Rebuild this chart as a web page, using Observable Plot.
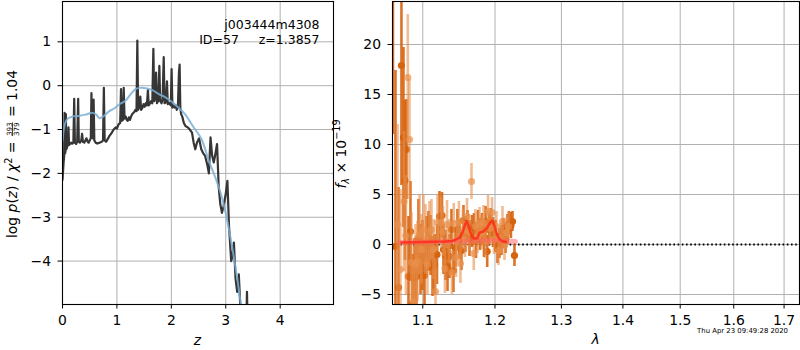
<!DOCTYPE html>
<html><head><meta charset="utf-8">
<script src="https://cdn.jsdelivr.net/npm/d3@7"></script>
<script src="https://cdn.jsdelivr.net/npm/@observablehq/plot@0.6"></script>
<style>
body{margin:0;background:#fff;}
#wrap{position:relative;width:800px;height:350px;font-family:"DejaVu Sans";}
#wrap svg{position:absolute;top:0;overflow:visible;background:none;}
</style></head><body><div id="wrap"></div>
<script>
// ---------- left panel: p(z) ----------
const zGrid = [0.000,0.010,0.020,0.030,0.038,0.045,0.055,0.062,0.070,0.085,0.100,0.110,0.120,0.140,0.160,0.180,0.200,0.215,0.228,0.250,0.270,0.288,0.300,0.320,0.345,0.360,0.375,0.400,0.420,0.440,0.460,0.480,0.500,0.520,0.532,0.545,0.560,0.572,0.585,0.610,0.640,0.680,0.720,0.745,0.760,0.775,0.800,0.830,0.860,0.900,0.940,0.980,1.000,1.030,1.060,1.075,1.090,1.110,1.125,1.140,1.160,1.180,1.200,1.220,1.240,1.260,1.280,1.300,1.320,1.340,1.360,1.375,1.390,1.410,1.430,1.445,1.470,1.490,1.510,1.530,1.550,1.570,1.585,1.610,1.630,1.650,1.670,1.685,1.700,1.720,1.735,1.760,1.780,1.795,1.820,1.840,1.860,1.875,1.900,1.920,1.935,1.960,1.990,2.005,2.020,2.040,2.060,2.080,2.100,2.120,2.140,2.152,2.165,2.180,2.200,2.230,2.260,2.300,2.340,2.380,2.410,2.440,2.470,2.510,2.550,2.590,2.620,2.660,2.690,2.720,2.750,2.780,2.810,2.840,2.870,2.900,2.930,2.960,2.996,3.030,3.060,3.100,3.120,3.150,3.180,3.210,3.240,3.270,3.300,3.380,3.390,3.400];
const logPz = [-2.15,-1.95,-1.75,-1.62,-0.62,-1.55,-1.50,-0.65,-1.45,-1.40,-1.35,-0.95,-1.35,-1.33,-1.30,-1.32,-1.30,-0.30,-1.30,-1.33,-1.28,-0.30,-1.28,-1.30,-1.25,-1.10,-1.28,-1.30,-1.25,-1.20,-1.27,-1.30,-1.25,-1.20,-0.17,-1.15,-1.20,-0.32,-1.25,-1.30,-1.32,-1.30,-1.28,-1.25,-0.05,-1.25,-1.28,-1.22,-1.15,-1.08,-1.00,-0.95,-0.98,-0.88,-0.85,-0.08,-0.80,-0.78,-0.05,-0.75,-0.70,-0.78,-0.80,-0.72,-0.78,-0.70,-0.65,-0.62,-0.60,-0.55,-0.58,1.03,-0.55,-0.50,-0.25,-0.55,-0.50,-0.42,-0.48,-0.40,-0.45,-0.10,-0.45,-0.40,-0.35,-0.40,0.84,-0.35,-0.30,0.30,-0.40,-0.35,0.45,-0.35,-0.40,-0.30,0.65,-0.40,-0.38,0.10,-0.42,-0.40,-0.45,0.38,-0.50,-0.45,-0.50,-0.45,-0.55,-0.50,0.30,0.48,-0.50,-0.65,-0.70,-0.85,-0.92,-0.95,-1.00,-1.07,-1.30,-1.45,-1.30,-1.20,-1.45,-1.55,-1.60,-1.80,-2.00,-1.18,-1.60,-1.75,-1.55,-1.33,-2.30,-2.70,-2.90,-2.75,-2.50,-2.17,-3.20,-4.00,-3.90,-3.58,-4.40,-4.70,-4.30,-5.10,-5.40,-5.30,-4.70,-5.30];
const zSmooth = [0,0.03,0.06,0.1,0.2,0.3,0.45,0.55,0.62,0.68,0.75,0.86,0.95,1.04,1.16,1.25,1.34,1.42,1.5,1.65,1.77,1.9,2.02,2.13,2.25,2.4,2.555,2.69,2.81,2.93,3.03,3.12,3.21,3.27,3.32];
const logPzSmooth = [-1.26,-0.95,-0.82,-0.75,-0.70,-0.69,-0.65,-0.62,-0.66,-0.74,-0.70,-0.58,-0.52,-0.43,-0.34,-0.20,-0.08,-0.05,-0.05,-0.10,-0.19,-0.27,-0.38,-0.50,-0.65,-0.93,-1.22,-1.72,-2.10,-2.55,-3.09,-3.70,-4.39,-4.92,-5.40];
const zTicks = [0,1,2,3,4];
const pzTicks = [-4,-3,-2,-1,0,1];
const objName = "j003444m4308";
const objId = "ID=57";
const objZ = "z=1.3857";
const chi2Num = "393", chi2Den = "379", chi2Val = "1.04";

// ---------- right panel: spectrum ----------
const lamDark = [1.0612,1.0644,1.0683,1.0721,1.0747,1.0766,1.0786,1.0812,1.0838,1.0864,1.0891,1.0917,1.0943,1.0970,1.0996,1.1023,1.1049,1.1076,1.1103,1.1130,1.1157,1.1190,1.1224,1.1258,1.1278,1.1305,1.1333,1.1360,1.1387,1.1414,1.1442,1.1469,1.1497,1.1525,1.1553,1.1581,1.1609,1.1637,1.1672,1.1700,1.1729,1.1757,1.1785,1.1814,1.1842,1.1864,1.1888,1.1914,1.1942,1.1971,1.2007,1.2036,1.2065,1.2094,1.2123,1.2153,1.2182,1.2204,1.2233,1.2256,1.2285];
const fluxDark = [30,-0.2,-4.3,17.9,10.7,6.4,9.5,-3.2,1.3,-6.0,-3.4,-3.2,0.5,-1.5,-1.1,-3.1,-0.2,0.3,-0.1,-2.2,-2.0,-1.0,2.8,2.9,-0.5,-1.1,-2.2,-1.2,1.5,-2.6,-0.3,1.5,0.5,-0.6,2.4,1.0,1.8,0.6,1.3,1.5,0.4,1.8,1.0,1.5,0.5,2.3,-0.7,1.5,2.1,1.2,0.8,-0.4,0.1,0.4,1.1,0.6,1.5,2.1,1.9,2.3,-1.1];
const errDark = [19,17.6,10,12,9,8,5,6,5,5,4,4,4,3.5,3.5,3.5,3,3,3,3,3,3,2.5,2.3,2.5,2.5,2.5,2.2,2,2.2,2,2,2,2,1.5,1.8,1.6,1.8,1.6,1.6,1.8,1.6,1.6,1.6,1.8,1.5,1.6,1.6,1.5,1.5,1.6,1.5,1.5,1.5,1.5,1.5,1.5,1.2,1.3,1.0,1.1];
const lamLight = [1.0670,1.0708,1.0754,1.0779,1.0803,1.0825,1.0851,1.0878,1.0904,1.0930,1.0957,1.0983,1.1009,1.1036,1.1062,1.1089,1.1116,1.1143,1.1170,1.1197,1.1244,1.1271,1.1298,1.1326,1.1353,1.1394,1.1419,1.1449,1.1465,1.1490,1.1511,1.1546,1.1574,1.1602,1.1630,1.1665,1.1697,1.1721,1.1750,1.1778,1.1806,1.1835,1.1864,1.1900,1.1928,1.1957,1.1985,1.2022,1.2051,1.2080,1.2109,1.2138,1.2168,1.2197];
const fluxLight = [2.0,-2.5,4.3,0.9,16.7,10.5,-1.8,-5.7,-2.0,-1.7,1.0,-0.5,1.5,0.5,-2.0,1.3,1.5,-0.5,-4.7,2.2,2.2,1.3,-2.4,2.0,0.3,-2.8,2.1,-1.3,0.3,2.3,-1.9,1.5,0.5,2.8,1.2,6.3,-0.9,1.8,0.8,2.0,1.2,2.2,0.3,3.3,1.6,3.2,0.5,1.8,-0.6,0.6,2.3,-0.1,1.2,1.8];
const errLight = [10,8,7,6,6.3,6,5,4,4,4,4,3.5,3.5,3.5,3,3,3,3,3,2.8,2.5,2.5,2.5,2.4,2.2,2.2,2,2,2,2,2,2,1.8,1.8,1.8,1.8,1.7,1.7,1.7,1.7,1.7,1.7,1.7,1.6,1.6,1.5,1.5,1.5,1.5,1.5,1.5,1.5,1.5,1.4];
const lamModel = [1.072,1.100,1.130,1.140,1.145,1.150,1.154,1.1575,1.160,1.1625,1.166,1.170,1.1745,1.178,1.183,1.188,1.193,1.196,1.199,1.203,1.207,1.212,1.216];
const fluxModel = [0.2,0.25,0.3,0.35,0.5,0.7,1.2,2.0,2.35,1.8,1.0,0.6,0.6,1.2,1.3,1.6,2.2,2.4,1.9,1.0,0.5,0.3,0.25];
const lamCont = [1.069,1.10,1.14,1.16,1.18,1.20,1.215,1.23];
const fluxCont = [0.2,0.25,0.3,0.35,0.4,0.4,0.35,0.3];
const lamTicks = [1.1,1.2,1.3,1.4,1.5,1.6,1.7];
const fluxTicks = [-5,0,5,10,15,20];
const dateText = "Thu Apr 23 09:49:28 2020";

// ---------- build ----------
const FONT = "DejaVu Sans";
const FS = 13.9;
const gridC = "#b0b0b0";
const pz = zGrid.map((z,i)=>({z, v: logPz[i]}));
const pzS = zSmooth.map((z,i)=>({z, v: logPzSmooth[i]}));
const dark = lamDark.map((l,i)=>({l, f: fluxDark[i], e: errDark[i]}));
const light = lamLight.map((l,i)=>({l, f: fluxLight[i], e: errLight[i]}));
const model = lamModel.map((l,i)=>({l, f: fluxModel[i]}));
const cont = lamCont.map((l,i)=>({l, f: fluxCont[i]}));

const wrap = document.getElementById("wrap");

const left = Plot.plot({
  width: 340, height: 350, marginLeft: 62, marginRight: 7, marginTop: 1, marginBottom: 46,
  style: {fontFamily: FONT, fontSize: FS + "px", background: "none", overflow: "visible"},
  x: {domain: [0, 4.98]},
  y: {domain: [-4.99, 1.92]},
  marks: [
    Plot.gridX(zTicks, {stroke: gridC, strokeOpacity: 1, strokeWidth: 1}),
    Plot.gridY(pzTicks, {stroke: gridC, strokeOpacity: 1, strokeWidth: 1}),
    Plot.line(pz, {x: "z", y: "v", stroke: "#363636", strokeWidth: 2.2, clip: true}),
    Plot.line(pzS, {x: "z", y: "v", stroke: "#7aaed6", strokeOpacity: 0.85, strokeWidth: 2, curve: "catmull-rom", clip: true}),
    Plot.frame({stroke: "black", strokeWidth: 1.1}),
    Plot.axisX(zTicks, {tickSize: 4.5, tickPadding: 6.5, label: null, tickFormat: d3.format("d")}),
    Plot.axisY(pzTicks, {tickSize: 4.5, tickPadding: 7, label: null}),
    Plot.text([objName], {frameAnchor: "top-right", dx: -14, dy: 19, textAnchor: "end", fontSize: 12.5}),
    Plot.text([objId + "\u00a0\u00a0\u00a0\u00a0\u00a0" + objZ], {frameAnchor: "top-right", dx: -14, dy: 34, textAnchor: "end", fontSize: 12.5})
  ]
});
left.style.left = "0px";
wrap.appendChild(left);

const RX = 334;
const right = Plot.plot({
  width: 800 - RX, height: 350, marginLeft: 392 - RX, marginRight: 1, marginTop: 1, marginBottom: 46,
  style: {fontFamily: FONT, fontSize: FS + "px", background: "none", overflow: "visible"},
  x: {type: "log", domain: [1.0606, 1.7319]},
  y: {domain: [-6, 24.3]},
  marks: [
    Plot.gridX(lamTicks, {stroke: gridC, strokeOpacity: 1, strokeWidth: 1}),
    Plot.gridY(fluxTicks, {stroke: gridC, strokeOpacity: 1, strokeWidth: 1}),
    Plot.ruleY([0], {stroke: "black", strokeWidth: 1.8, strokeDasharray: "1.6,2.6"}),
    Plot.ruleX(dark, {x: "l", y1: d => d.f - d.e, y2: d => d.f + d.e, stroke: "#d6640f", strokeOpacity: 0.9, strokeWidth: 2.6, clip: true}),
    Plot.dot(dark, {x: "l", y: "f", r: 3.6, fill: "#d6640f", fillOpacity: 1, clip: true}),
    Plot.ruleX(light, {x: "l", y1: d => d.f - d.e, y2: d => d.f + d.e, stroke: "#e8904c", strokeOpacity: 0.6, strokeWidth: 2.6, clip: true}),
    Plot.dot(light, {x: "l", y: "f", r: 3.6, fill: "#e8904c", fillOpacity: 0.7, clip: true}),
    Plot.line(cont, {x: "l", y: "f", stroke: "#ff6060", strokeOpacity: 0.5, strokeWidth: 5, clip: true}),
    Plot.line(model, {x: "l", y: "f", stroke: "#ff2a1a", strokeOpacity: 0.85, strokeWidth: 2.5, clip: true}),
    Plot.frame({stroke: "black", strokeWidth: 1.1}),
    Plot.axisX(lamTicks, {tickSize: 4.5, tickPadding: 6.5, label: null, tickFormat: d3.format(".1f")}),
    Plot.axisY(fluxTicks, {tickSize: 4.5, tickPadding: 7, label: null})
  ]
});
right.style.left = RX + "px";
wrap.appendChild(right);

// ---------- axis labels (no measuring: chained tspans, anchored middle) ----------
const ls = d3.select(left);
ls.append("text").attr("x", 197.5).attr("y", 345).attr("text-anchor", "middle")
  .attr("font-family", FONT).attr("font-size", FS).attr("font-style", "italic").attr("fill", "black").text("z");

const FFS = 7.2;
const numW = chi2Num.length * 0.636 * FFS;
const tL = ls.append("text").attr("transform", "translate(17,154) rotate(-90)")
  .attr("text-anchor", "middle").attr("font-family", FONT).attr("font-size", FS).attr("fill", "black");
tL.append("tspan").text("log ");
tL.append("tspan").attr("font-style", "italic").text("p");
tL.append("tspan").text("(");
tL.append("tspan").attr("font-style", "italic").text("z");
tL.append("tspan").text(") / ");
tL.append("tspan").attr("font-style", "italic").text("\u03c7");
tL.append("tspan").attr("font-size", 9.7).attr("dy", -5.5).text("2");
tL.append("tspan").attr("dy", 5.5).text(" = ");
tL.append("tspan").attr("font-size", FFS).attr("dy", -4.8).attr("dx", 1).text(chi2Num);
tL.append("tspan").attr("font-size", FFS).attr("dy", 7).attr("dx", -numW)
  .style("text-decoration", "overline").text(chi2Den);
tL.append("tspan").attr("dy", -2.2).attr("dx", 1).text(" = " + chi2Val);

const rs = d3.select(right);
rs.append("text").attr("x", (392 + 799) / 2 - RX).attr("y", 344).attr("text-anchor", "middle")
  .attr("font-family", FONT).attr("font-size", FS).attr("font-style", "italic").attr("fill", "black").text("\u03bb");
const tR = rs.append("text").attr("transform", `translate(${345.5 - RX},154) rotate(-90)`)
  .attr("text-anchor", "middle").attr("font-family", FONT).attr("font-size", FS).attr("fill", "black");
tR.append("tspan").attr("font-style", "italic").text("f");
tR.append("tspan").attr("font-style", "italic").attr("font-size", 9.7).attr("dy", 3).text("\u03bb");
tR.append("tspan").attr("dy", -3).text(" \u00d7 10");
tR.append("tspan").attr("font-size", 9.7).attr("dy", -5.5).text("\u221219");

rs.append("text").attr("x", 788 - RX).attr("y", 333).attr("text-anchor", "end")
  .attr("font-family", FONT).attr("font-size", 6.9).attr("fill", "black").text(dateText);
</script></body></html>
